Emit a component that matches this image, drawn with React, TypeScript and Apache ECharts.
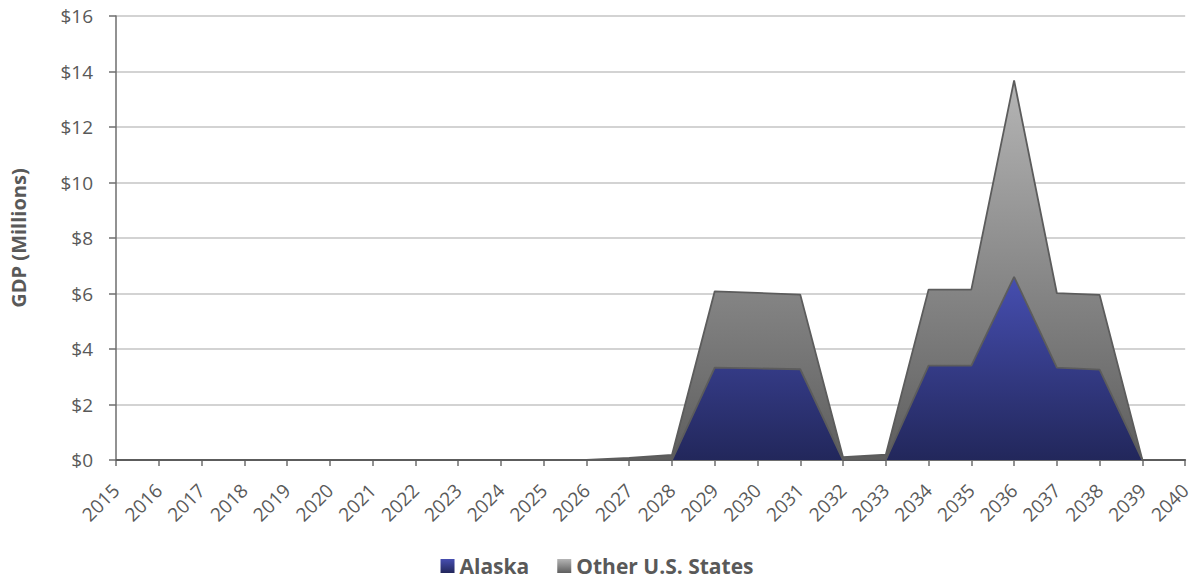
import React, { useEffect, useRef } from "react";
import * as echarts from "echarts";

const years = [
  "2015", "2016", "2017", "2018", "2019", "2020", "2021", "2022", "2023",
  "2024", "2025", "2026", "2027", "2028", "2029", "2030", "2031", "2032",
  "2033", "2034", "2035", "2036", "2037", "2038", "2039", "2040",
];

// GDP contribution, millions of dollars
const alaska = [
  0, 0, 0, 0, 0, 0, 0, 0, 0, 0, 0, 0, 0, 0,
  3.33, 3.3, 3.27, 0, 0, 3.4, 3.4, 6.6, 3.33, 3.26, 0, 0,
];
const otherStates = [
  0, 0, 0, 0, 0, 0, 0, 0, 0, 0, 0, 0, 0.08, 0.18,
  2.75, 2.72, 2.69, 0.1, 0.19, 2.74, 2.74, 7.08, 2.68, 2.69, 0, 0,
];

const yMax = 16;
const yStep = 2;

const FONT = "'Open Sans', 'Noto Sans', sans-serif";
const TEXT = "#595959";

export default function App() {
  const ref = useRef<HTMLDivElement>(null);

  useEffect(() => {
    if (!ref.current) return;
    const chart = echarts.init(ref.current, null, { renderer: "svg" });

    const blueFill = new echarts.graphic.LinearGradient(0, 0, 0, 1, [
      { offset: 0, color: "#464eb0" },
      { offset: 1, color: "#22275b" },
    ]);
    const grayFill = new echarts.graphic.LinearGradient(0, 0, 0, 1, [
      { offset: 0, color: "#b5b5b5" },
      { offset: 1, color: "#5e5e5e" },
    ]);

    chart.setOption({
      animation: false,
      textStyle: { fontFamily: FONT },
      grid: { left: 115, right: 6, top: 16, bottom: 121, containLabel: false },
      legend: {
        top: 552,
        left: "center",
        padding: 2,
        itemWidth: 14,
        itemHeight: 14,
        itemGap: 28,
        icon: "rect",
        textStyle: {
          fontFamily: FONT,
          fontSize: 21,
          lineHeight: 24,
          fontWeight: "bold",
          color: TEXT,
        },
        data: ["Alaska", "Other U.S. States"],
      },
      xAxis: {
        type: "category",
        data: years,
        boundaryGap: false,
        axisLine: { lineStyle: { color: "#6e6e6e", width: 2 } },
        axisTick: { show: true, length: 6, lineStyle: { color: "#6e6e6e", width: 1.5 } },
        axisLabel: {
          interval: 0,
          rotate: 45,
          color: TEXT,
          fontSize: 19,
          fontFamily: FONT,
          margin: 27,
        },
        splitLine: { show: false },
      },
      yAxis: {
        type: "value",
        min: 0,
        max: yMax,
        interval: yStep,
        name: "GDP (Millions)",
        nameLocation: "middle",
        nameGap: 88,
        nameTextStyle: {
          fontFamily: FONT,
          fontSize: 20,
          fontWeight: "bold",
          color: TEXT,
        },
        axisLine: { show: true, lineStyle: { color: "#6e6e6e", width: 1.5 } },
        axisTick: { show: true, length: 7, lineStyle: { color: "#6e6e6e", width: 1.5 } },
        axisLabel: {
          formatter: (v: number) => "$" + v,
          color: TEXT,
          fontSize: 19,
          fontFamily: FONT,
          margin: 23,
        },
        splitLine: { lineStyle: { color: "#c4c4c4", width: 1.5 } },
      },
      series: [
        {
          name: "Alaska",
          type: "line",
          stack: "gdp",
          data: alaska,
          symbol: "none",
          itemStyle: { color: blueFill },
          lineStyle: { color: "#5c5c5c", width: 1.8 },
          areaStyle: { color: blueFill, opacity: 1 },
          z: 3,
        },
        {
          name: "Other U.S. States",
          type: "line",
          stack: "gdp",
          data: otherStates,
          symbol: "none",
          itemStyle: { color: grayFill },
          lineStyle: { color: "#5c5c5c", width: 1.8 },
          areaStyle: { color: grayFill, opacity: 1 },
          z: 2,
        },
      ],
    });

    return () => chart.dispose();
  }, []);

  return (
    <div
      ref={ref}
      style={{ width: 1194, height: 581, position: "absolute", left: 0, top: 0 }}
    />
  );
}
